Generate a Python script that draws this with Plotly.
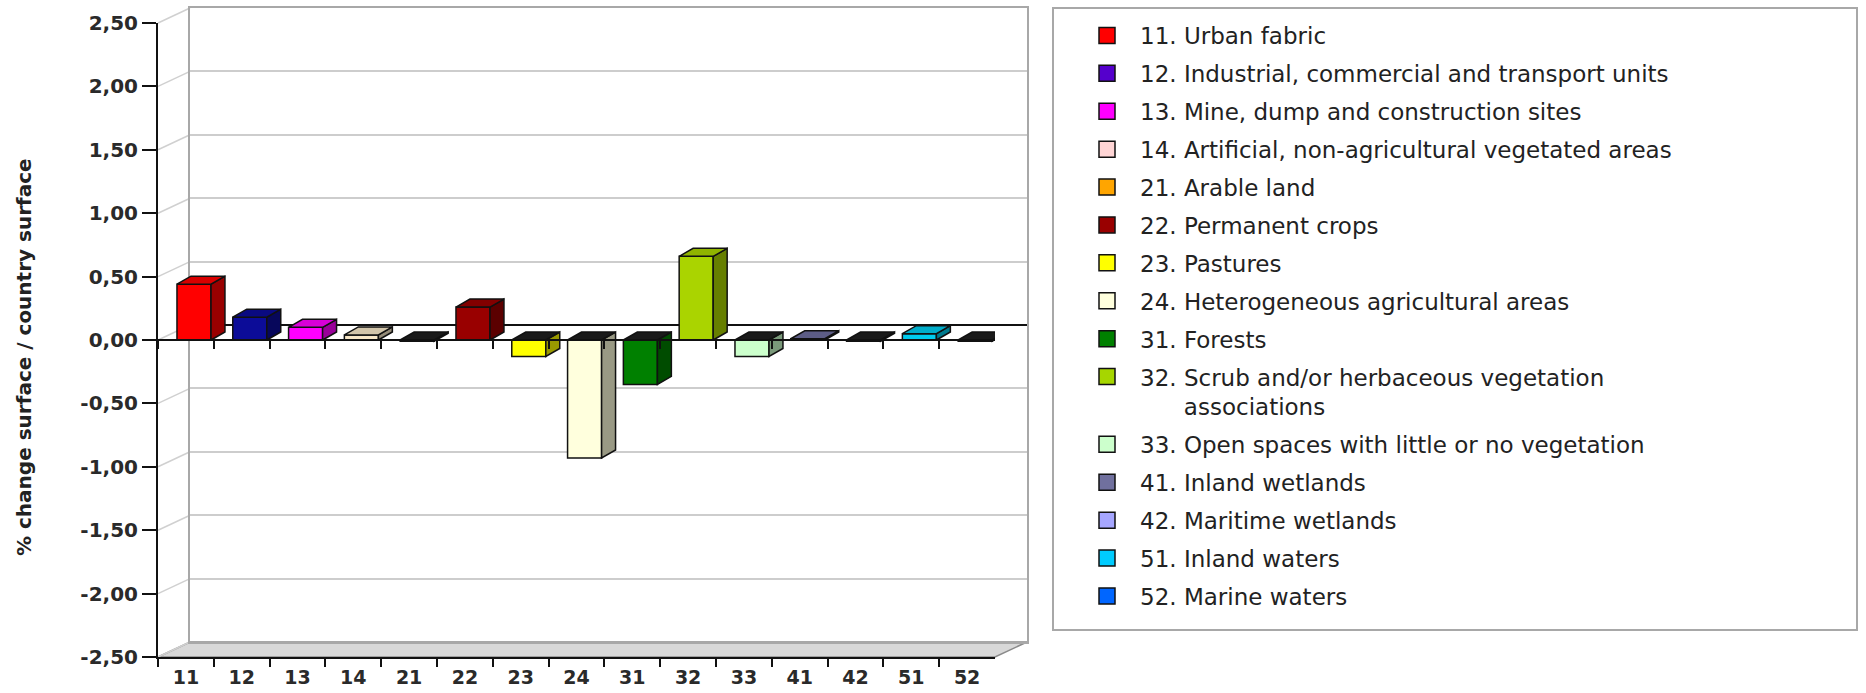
import plotly.graph_objects as go

W, H = 1866, 693

# ---------------- data ----------------
categories = ["11", "12", "13", "14", "21", "22", "23", "24",
              "31", "32", "33", "41", "42", "51", "52"]
values = [0.44, 0.18, 0.10, 0.04, -0.01, 0.26, -0.13, -0.93,
          -0.35, 0.66, -0.13, 0.01, -0.01, 0.05, -0.01]
legend_labels = [
    "11. Urban fabric",
    "12. Industrial, commercial and transport units",
    "13. Mine, dump and construction sites",
    "14. Artificial, non-agricultural vegetated areas",
    "21. Arable land",
    "22. Permanent crops",
    "23. Pastures",
    "24. Heterogeneous agricultural areas",
    "31. Forests",
    "32. Scrub and/or herbaceous vegetation<br>" + "\u00a0" * 6 + "associations",
    "33. Open spaces with little or no vegetation",
    "41. Inland wetlands",
    "42. Maritime wetlands",
    "51. Inland waters",
    "52. Marine waters",
]
bar_colors = ["#FF0000", "#0C0C98", "#FF00FF", "#F8E8C8", "#FFA500",
              "#990000", "#FFFF00", "#FFFFDD", "#008000", "#AAD400",
              "#CCFFCC", "#6E6E9E", "#A0A0F0", "#00CCEE", "#0066FF"]
legend_colors = ["#FF0000", "#5500CC", "#FF00FF", "#FFD5D5", "#FFA500",
                 "#990000", "#FFFF00", "#FFFFDD", "#008000", "#A6D600",
                 "#CCFFCC", "#70709E", "#A6A6FF", "#00CCFF", "#0066FF"]
y_tickvals = [2.5, 2.0, 1.5, 1.0, 0.5, 0.0, -0.5, -1.0, -1.5, -2.0, -2.5]
y_ticktext = ["2,50", "2,00", "1,50", "1,00", "0,50", "0,00",
              "-0,50", "-1,00", "-1,50", "-2,00", "-2,50"]
y_title = "% change surface / country surface"

# ---------------- layout geometry (pixels) ----------------
FX0, FX1 = 158, 995          # front plot area x
FY_TOP, FY_BOT = 23, 657     # front plot area y (2.5 .. -2.5)
DX, DY = 32, 15              # depth offset of the back wall
BX0, BX1 = FX0 + DX, FX1 + DX
BY_TOP, BY_BOT = FY_TOP - DY, FY_BOT - DY


def px(p):
    return p / W


def py(p):
    return (H - p) / H


def darken(hexcol, f):
    h = hexcol.lstrip("#")
    r, g, b = (int(h[i:i + 2], 16) for i in (0, 2, 4))
    return "#%02X%02X%02X" % (int(r * f), int(g * f), int(b * f))


BAR_OFF, BAR_W = -0.16, 0.61     # front face placement inside a category
D_X, D_Y = 0.25, 0.063           # bar depth (category units, value units)
OUTLINE = "#111111"

fig = go.Figure()

# invisible trace so that the back-wall subplot is drawn (first, i.e. behind)
fig.add_trace(go.Scatter(
    x=[0.5], y=[0], xaxis="x", yaxis="y", mode="markers",
    marker=dict(opacity=0), showlegend=False, hoverinfo="skip",
))

# front faces (bars)
for i, (c, v) in enumerate(zip(categories, values)):
    fig.add_trace(go.Bar(
        x=[c], y=[v], xaxis="x2", yaxis="y2",
        offset=BAR_OFF, width=BAR_W,
        marker=dict(color=bar_colors[i], line=dict(color=OUTLINE, width=1.5)),
        legendgroup="g%d" % i, showlegend=False, hoverinfo="skip",
    ))

# side and top faces computed from the values
for i, v in enumerate(values):
    x0 = i + BAR_OFF
    x1 = x0 + BAR_W
    fig.add_trace(go.Scatter(
        x=[x1, x1, x1 + D_X, x1 + D_X, x1],
        y=[0, v, v + D_Y, D_Y, 0],
        xaxis="x3", yaxis="y2", mode="lines", fill="toself",
        fillcolor=darken(bar_colors[i], 0.6),
        line=dict(color=OUTLINE, width=1.5),
        legendgroup="g%d" % i, showlegend=False, hoverinfo="skip",
    ))
    top = max(v, 0)
    topcol = darken(bar_colors[i], 0.85) if v > 0 else "#1A1A1A"
    fig.add_trace(go.Scatter(
        x=[x0, x1, x1 + D_X, x0 + D_X, x0],
        y=[top, top, top + D_Y, top + D_Y, top],
        xaxis="x3", yaxis="y2", mode="lines", fill="toself",
        fillcolor=topcol,
        line=dict(color=OUTLINE, width=1.5),
        legendgroup="g%d" % i, showlegend=False, hoverinfo="skip",
    ))

# invisible trace registering categories on the zero-line tick axis
fig.add_trace(go.Scatter(
    x=categories, y=values, xaxis="x4", yaxis="y2", mode="markers",
    marker=dict(opacity=0), showlegend=False, hoverinfo="skip",
))

# legend entries
for i, lab in enumerate(legend_labels):
    fig.add_trace(go.Scatter(
        x=[None], y=[None], xaxis="x3", yaxis="y2", mode="markers",
        name=lab, legendgroup="g%d" % i,
        marker=dict(symbol="square", size=16, color=legend_colors[i],
                    line=dict(color=OUTLINE, width=1.5)),
    ))

# ---------------- decorative 3D frame ----------------
shapes = []
# floor
shapes.append(dict(
    type="path", xref="paper", yref="paper", layer="below",
    path="M %f,%f L %f,%f L %f,%f L %f,%f Z" % (
        px(FX0), py(FY_BOT), px(FX1), py(FY_BOT),
        px(BX1), py(BY_BOT), px(BX0), py(BY_BOT)),
    fillcolor="#D8D8D8", line=dict(color="#8A8A8A", width=1.5),
))
# left wall connectors at each gridline
for v in y_tickvals:
    frac = (v + 2.5) / 5.0
    yf = FY_BOT - frac * (FY_BOT - FY_TOP)
    yb = BY_BOT - frac * (BY_BOT - BY_TOP)
    shapes.append(dict(
        type="line", xref="paper", yref="paper", layer="below",
        x0=px(FX0), y0=py(yf), x1=px(BX0), y1=py(yb),
        line=dict(color="#D0D0D0", width=1.5),
    ))
# legend box
shapes.append(dict(
    type="rect", xref="paper", yref="paper", layer="below",
    x0=px(1053), x1=px(1857), y0=py(630), y1=py(8),
    line=dict(color="#A8A8A8", width=2), fillcolor="rgba(0,0,0,0)",
))

mid_zero = (py(FY_BOT) + py(FY_TOP)) / 2.0
tick_font = dict(family="DejaVu Sans", size=20, color="#2A2A2A", weight="bold")
xtick_font = dict(family="DejaVu Sans", size=19, color="#2A2A2A", weight="bold")

fig.update_layout(
    width=W, height=H,
    margin=dict(l=0, r=0, t=0, b=0),
    paper_bgcolor="white", plot_bgcolor="rgba(0,0,0,0)",
    barmode="overlay",
    shapes=shapes,
    showlegend=True,
    legend=dict(
        x=px(1074), xanchor="left", y=py(14), yanchor="top",
        font=dict(family="DejaVu Sans", size=23, color="#222222"),
        itemwidth=56, tracegroupgap=5, valign="top",
        bgcolor="rgba(0,0,0,0)", borderwidth=0,
        itemclick=False, itemdoubleclick=False,
    ),
    # back wall
    xaxis=dict(domain=[px(BX0), px(BX1)], range=[0, 1], anchor="y",
               showline=True, mirror=True, linecolor="#A8A8A8", linewidth=2,
               showticklabels=False, ticks="", showgrid=False, zeroline=False,
               fixedrange=True),
    yaxis=dict(domain=[py(BY_BOT), py(BY_TOP)], range=[-2.5, 2.5], anchor="x",
               tickvals=y_tickvals, showticklabels=False, ticks="",
               showgrid=True, gridcolor="#CDCDCD", gridwidth=1.5,
               zeroline=True, zerolinecolor="#111111", zerolinewidth=1.5,
               showline=True, mirror=True, linecolor="#A8A8A8", linewidth=2,
               fixedrange=True),
    # front axes
    xaxis2=dict(domain=[px(FX0), px(FX1)], type="category",
                categoryorder="array", categoryarray=categories,
                range=[-0.5, len(categories) - 0.5], anchor="y2",
                showline=True, linecolor="#111111", linewidth=2,
                ticks="outside", ticklen=8, tickwidth=2, tickcolor="#111111",
                tickson="boundaries", tickfont=xtick_font, ticklabelstandoff=2,
                showgrid=False, zeroline=False, automargin=False,
                fixedrange=True),
    yaxis2=dict(domain=[py(FY_BOT), py(FY_TOP)], range=[-2.5, 2.5],
                anchor="x2", tickvals=y_tickvals, ticktext=y_ticktext,
                showline=True, linecolor="#111111", linewidth=2,
                ticks="outside", ticklen=14, tickwidth=2, tickcolor="#111111",
                tickfont=tick_font, showgrid=False, zeroline=False,
                automargin=False, fixedrange=True),
    xaxis3=dict(overlaying="x2", anchor="y2", range=[-0.5, len(categories) - 0.5],
                visible=False, fixedrange=True),
    xaxis4=dict(overlaying="x2", anchor="free", position=mid_zero,
                type="category", categoryorder="array", categoryarray=categories,
                range=[-0.5, len(categories) - 0.5],
                showline=True, linecolor="#111111", linewidth=1.5,
                ticks="outside", ticklen=8, tickwidth=2, tickcolor="#111111",
                tickson="boundaries", showticklabels=False,
                showgrid=False, zeroline=False, fixedrange=True),
    annotations=[dict(
        text=y_title, textangle=-90, xref="paper", yref="paper",
        x=px(24), y=py(357), xanchor="center", yanchor="middle",
        showarrow=False,
        font=dict(family="DejaVu Sans", size=20, color="#222222", weight="bold"),
    )],
)

fig.write_html("out.html")
